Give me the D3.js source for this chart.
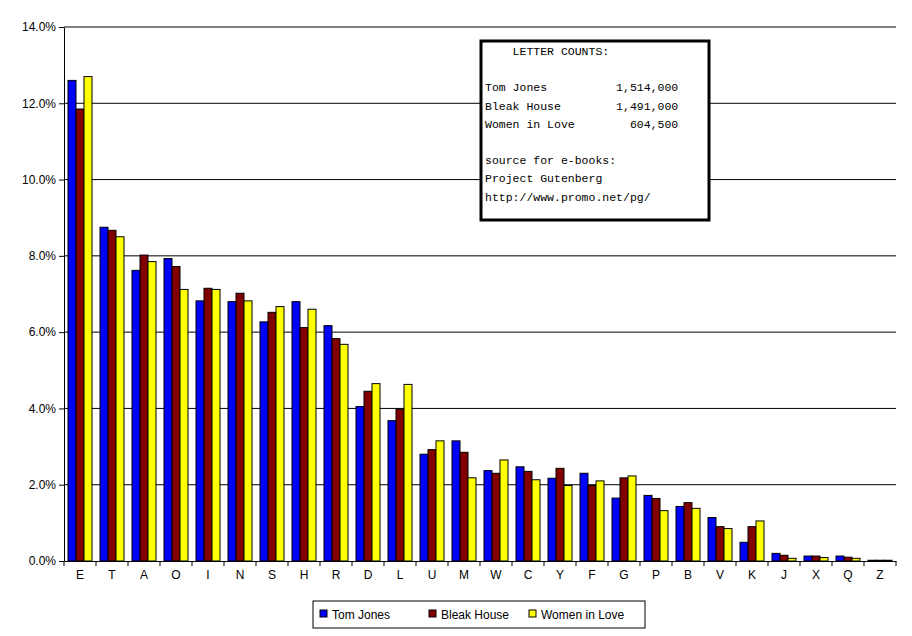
<!DOCTYPE html><html><head><meta charset="utf-8"><script src="https://cdn.jsdelivr.net/npm/d3@7"></script>
<style>body{margin:0;background:#fff}</style></head><body><svg id="c" width="912" height="636"></svg><script>
const letters=["E","T","A","O","I","N","S","H","R","D","L","U","M","W","C","Y","F","G","P","B","V","K","J","X","Q","Z"];
const tomJones=[12.6,8.75,7.62,7.93,6.82,6.8,6.27,6.8,6.17,4.05,3.68,2.8,3.15,2.37,2.47,2.17,2.3,1.65,1.72,1.43,1.14,0.49,0.2,0.13,0.13,0.02];
const bleakHouse=[11.85,8.67,8.02,7.72,7.15,7.02,6.52,6.12,5.83,4.45,3.98,2.92,2.85,2.3,2.35,2.43,1.98,2.18,1.64,1.53,0.9,0.9,0.15,0.13,0.1,0.02];
const womenInLove=[12.7,8.5,7.85,7.12,7.12,6.82,6.67,6.6,5.68,4.65,4.63,3.15,2.18,2.65,2.13,1.98,2.1,2.23,1.32,1.38,0.85,1.05,0.07,0.09,0.07,0.02];
const seriesNames=["Tom Jones","Bleak House","Women in Love"];
const colors=["#0000ff","#800000","#ffff00"];
const yTicks=[0,2,4,6,8,10,12,14];
const infoLines=["    LETTER COUNTS:","","Tom Jones          1,514,000","Bleak House        1,491,000","Women in Love        604,500","","source for e-books:","Project Gutenberg","http://www.promo.net/pg/"];
const series=[tomJones,bleakHouse,womenInLove];
const svg=d3.select("#c");
const L=64,R=896,T=27,B=561;
const x=d3.scaleBand().domain(letters).range([L,R]);
const y=d3.scaleLinear().domain([0,14]).range([B,T]);
const xs=d3.scaleBand().domain([0,1,2]).range([0,x.bandwidth()]).paddingOuter(0.5).paddingInner(0);
const font="Arial, 'Liberation Sans', sans-serif";
svg.append("g").selectAll("line").data(yTicks.slice(1)).join("line")
 .attr("x1",L).attr("x2",R).attr("y1",d=>y(d)).attr("y2",d=>y(d)).attr("stroke","#000");
series.forEach((s,i)=>{
 svg.append("g").selectAll("rect").data(s).join("rect")
  .attr("x",(d,j)=>x(letters[j])+xs(i)).attr("width",xs.bandwidth())
  .attr("y",d=>y(d)).attr("height",d=>B-y(d))
  .attr("fill",colors[i]).attr("stroke","#000").attr("stroke-width",1);
});
const ya=svg.append("g").attr("transform",`translate(${L},0)`).call(d3.axisLeft(y).tickValues(yTicks).tickFormat(d=>d.toFixed(1)+"%").tickSize(5).tickSizeOuter(0));
const xa=svg.append("g").attr("transform",`translate(0,${B})`).call(d3.axisBottom(x).tickSize(0).tickPadding(9));
xa.selectAll(".tick").append("line").attr("x1",-x.bandwidth()/2).attr("x2",-x.bandwidth()/2).attr("y2",5).attr("stroke","#000");
xa.append("line").attr("x1",R).attr("x2",R).attr("y2",5).attr("stroke","#000");
[ya,xa].forEach(a=>{a.selectAll("text").attr("font-family",font).attr("font-size",12).attr("fill","#000");a.selectAll("path,line").attr("stroke","#000");});
// info box
const bx=svg.append("g");
bx.append("rect").attr("x",481).attr("y",41).attr("width",228).attr("height",179).attr("fill","#fff").attr("stroke","#000").attr("stroke-width",3);
bx.selectAll("text").data(infoLines).join("text").attr("x",485).attr("y",(d,i)=>55+i*18.2)
 .attr("font-family","'Liberation Mono', monospace").attr("font-size",11.5).attr("xml:space","preserve").style("white-space","pre").text(d=>d);
// legend
const lg=svg.append("g");
lg.append("rect").attr("x",313).attr("y",601).attr("width",332).attr("height",27).attr("fill","#fff").attr("stroke","#000");
const lx=[320,429,529];
seriesNames.forEach((n,i)=>{
 lg.append("rect").attr("x",lx[i]).attr("y",610).attr("width",7).attr("height",7).attr("fill",colors[i]).attr("stroke","#000");
 lg.append("text").attr("x",lx[i]+12).attr("y",619).attr("font-family",font).attr("font-size",12).text(n);
});
</script></body></html>
